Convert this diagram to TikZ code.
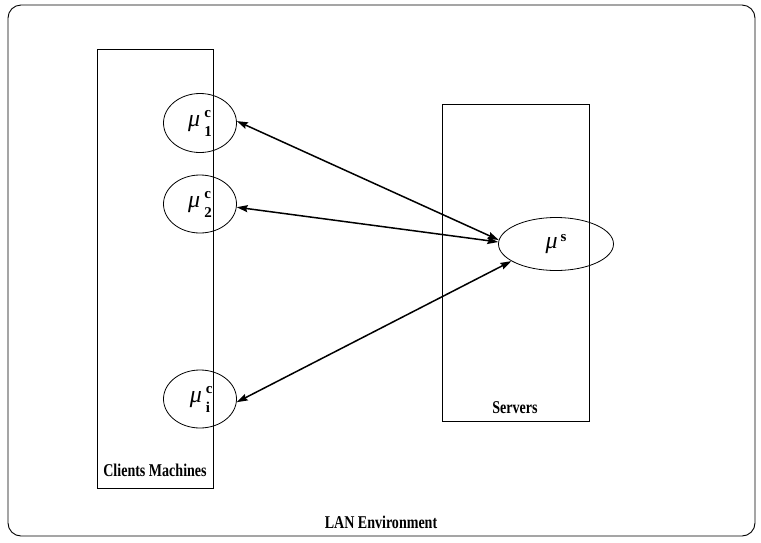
\documentclass[tikz,border=0pt]{standalone}
\usepackage{fontspec}
\setmainfont{Liberation Serif}
\usetikzlibrary{shapes.geometric,arrows.meta}
% bold caption text, slightly condensed
\newcommand{\lbl}[1]{\scalebox{0.78}[1]{\fontsize{18}{20}\selectfont\bfseries #1}}
% Greek mu with a bold index pair stacked at its right
\newcommand{\mug}{{\fontsize{24}{26}\selectfont\itshape μ}}
\newcommand{\idx}[1]{{\fontsize{15}{17}\selectfont\bfseries #1}}
\newcommand{\muc}[1]{\mug\kern4pt\rlap{\raisebox{9pt}{\idx{c}}}\raisebox{-10pt}{\idx{#1}}}
\begin{document}
\begin{tikzpicture}[x=1pt,y=-1pt,
  frame/.style={draw,line width=0.9pt},
  proc/.style={ellipse,draw,line width=0.8pt,inner sep=0pt},
  link/.style={<->,line width=1.5pt,>={Stealth[length=11pt,width=7pt,inset=1.5pt]}}]
\useasboundingbox (0,0) rectangle (761,542);
% LAN frame
\draw[frame,rounded corners=13pt] (8,5) rectangle (755,536);
\node (lan) at (381,522) {\lbl{LAN Environment}};
% client and server boxes
\draw[frame] (97,49) rectangle (213,488);
\node (cm) at (155,470) {\lbl{Clients Machines}};
\draw[frame] (442,104) rectangle (589,421);
\node (sv) at (515,408) {\lbl{Servers}};
% processes
\node[proc,minimum width=73pt,minimum height=59pt] (c1) at (200,123) {\muc{1}};
\node[proc,minimum width=73pt,minimum height=58pt] (c2) at (200,204) {\muc{2}};
\node[proc,minimum width=73pt,minimum height=58pt] (ci) at (200,399) {\muc{i}};
\node[proc,minimum width=115pt,minimum height=53pt] (s) at (556,244)
  {\mug\kern3pt\raisebox{7pt}{\idx{s}}};
% links
\draw[link] (c1.3) -- (s.176);
\draw[link] (c2.-5) -- (s.178);
\draw[link] (ci.-5) -- (s.201);
\end{tikzpicture}
\end{document}
